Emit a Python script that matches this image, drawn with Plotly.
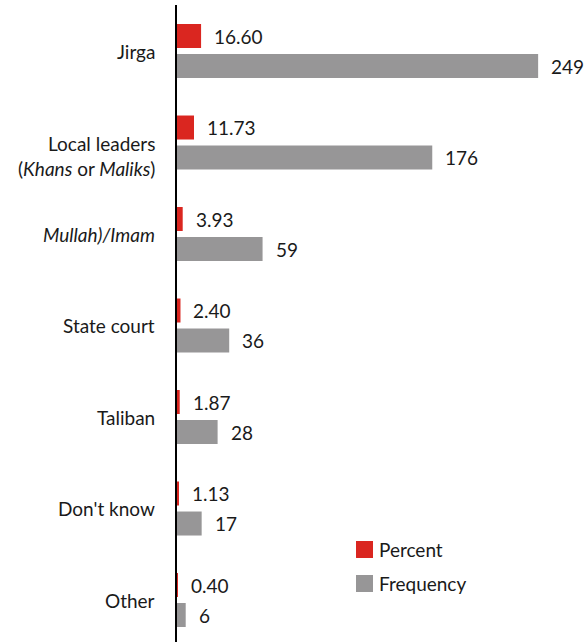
import plotly.graph_objects as go

# Responses: who resolves disputes
categories = ["Jirga", "Local leaders", "Mullah/Imam", "State court", "Taliban", "Don't know", "Other"]
category_labels = [
    "Jirga",
    "Local leaders<br>(<i>Khans</i> or <i>Maliks</i>)",
    "<i>Mullah)/Imam</i>",
    "State court",
    "Taliban",
    "Don't know",
    "Other",
]
percent = [16.60, 11.73, 3.93, 2.40, 1.87, 1.13, 0.40]
frequency = [249, 176, 59, 36, 28, 17, 6]
series_names = ["Percent", "Frequency"]

RED = "#da2620"
GRAY = "#979697"
TEXT = "#1a1a1a"
FONT = "Lato, 'Open Sans', sans-serif"
FSIZE = 19

fig = go.Figure()
fig.add_trace(go.Bar(y=categories, x=percent, orientation="h", name=series_names[0],
                     marker=dict(color=RED, line=dict(width=0)), showlegend=False))
fig.add_trace(go.Bar(y=categories, x=frequency, orientation="h", name=series_names[1],
                     marker=dict(color=GRAY, line=dict(width=0)), showlegend=False))

annotations = []
# value labels next to each bar
for i, cat in enumerate(categories):
    for val, fmt, ys in ((percent[i], "{:.2f}", 15), (frequency[i], "{:d}", -15)):
        annotations.append(dict(
            x=val, y=cat, xref="x", yref="y", text=fmt.format(val),
            xanchor="left", yanchor="middle", xshift=11, yshift=ys,
            showarrow=False, font=dict(family=FONT, size=FSIZE, color=TEXT)))

# category labels to the left of the axis
for cat, lab in zip(categories, category_labels):
    annotations.append(dict(
        x=0, y=cat, xref="paper", yref="y", text=lab, align="right",
        xanchor="right", yanchor="middle", xshift=-20,
        yshift=-13 if "<br>" in lab else 0,
        showarrow=False, font=dict(family=FONT, size=FSIZE, color=TEXT)))

# legend
shapes = []
legend_items = [(series_names[0], RED, 0.1319, 0.1586), (series_names[1], GRAY, 0.0785, 0.1052)]
for name, col, y0, y1 in legend_items:
    shapes.append(dict(type="rect", xref="paper", yref="paper", x0=0.4377, x1=0.4792,
                       y0=y0, y1=y1, fillcolor=col, line=dict(width=0)))
    annotations.append(dict(x=0.4890, y=(y0 + y1) / 2, xref="paper", yref="paper", text=name,
                            xanchor="left", yanchor="middle", showarrow=False,
                            font=dict(family=FONT, size=FSIZE, color=TEXT)))

fig.update_layout(
    width=586, height=642,
    margin=dict(l=177, r=0, t=5, b=0),
    paper_bgcolor="white", plot_bgcolor="white",
    barmode="group", bargap=0.344, bargroupgap=0.2,
    font=dict(family=FONT, size=FSIZE, color=TEXT),
    annotations=annotations, shapes=shapes,
    showlegend=False,
)
fig.update_xaxes(range=[0, 282], showgrid=False, zeroline=False, showticklabels=False,
                 showline=False, ticks="")
fig.update_yaxes(categoryorder="array", categoryarray=categories, range=[6.459, -0.503],
                 showgrid=False, zeroline=False, showticklabels=False, ticks="",
                 showline=True, linecolor="black", linewidth=2)

fig.write_html("out.html")
